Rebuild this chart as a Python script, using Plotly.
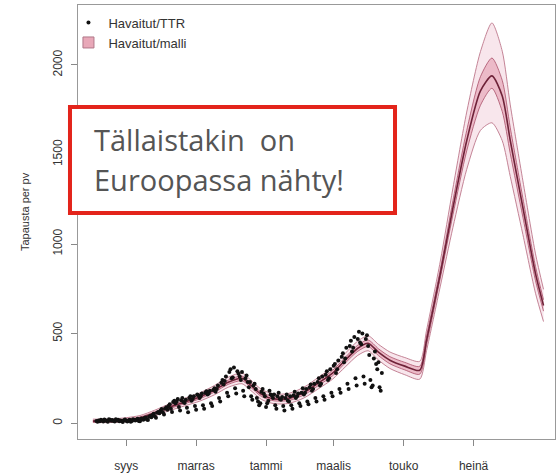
import plotly.graph_objects as go
import pandas as pd

# ---- model curve (knots) ----
model_dates = ["2020-08-03", "2020-08-18", "2020-09-01", "2020-09-13", "2020-09-26",
               "2020-10-09", "2020-10-22", "2020-11-04", "2020-11-17", "2020-11-29",
               "2020-12-11", "2020-12-18", "2020-12-28", "2021-01-08", "2021-01-21",
               "2021-02-03", "2021-02-16", "2021-02-28", "2021-03-11", "2021-03-22",
               "2021-03-31", "2021-04-09", "2021-04-19", "2021-05-02", "2021-05-15",
               "2021-05-21", "2021-06-02", "2021-06-13", "2021-06-25", "2021-07-07",
               "2021-07-17", "2021-07-26", "2021-08-02", "2021-08-13", "2021-08-24",
               "2021-08-31"]
model_mean = [11, 11, 17, 28, 56, 89, 117, 145, 184, 228, 250, 215, 160, 135, 138,
              170, 225, 279, 351, 418, 446, 396, 351, 318, 295, 462, 835, 1203, 1577,
              1855, 1939, 1827, 1577, 1203, 835, 657]
model_lo95 = [3, 3, 7, 15, 40, 70, 96, 122, 158, 200, 220, 186, 132, 108, 110,
              140, 193, 245, 313, 378, 404, 352, 305, 270, 245, 405, 765, 1093, 1417,
              1635, 1677, 1577, 1377, 1053, 725, 567]
model_hi95 = [22, 22, 30, 42, 72, 108, 138, 168, 210, 256, 280, 244, 188, 162, 166,
              200, 257, 313, 389, 458, 488, 440, 397, 366, 345, 519, 905, 1313, 1737,
              2075, 2235, 2077, 1777, 1353, 945, 747]
model_lo50 = [7, 7, 12, 22, 49, 81, 108, 135, 173, 216, 237, 203, 148, 124, 126,
              157, 211, 264, 335, 401, 428, 377, 331, 297, 273, 437, 810, 1163, 1520,
              1775, 1870, 1740, 1505, 1150, 795, 625]
model_hi50 = [15, 15, 22, 34, 63, 97, 126, 155, 195, 240, 263, 227, 172, 146, 150,
              183, 239, 294, 367, 435, 464, 415, 371, 339, 317, 487, 860, 1243, 1634,
              1935, 2039, 1914, 1649, 1256, 875, 689]

# ---- observed daily cases ----
obs_start = "2020-08-06"
obs_values = [
    12, 8, 15, 10, 18, 14, 9,
    20, 16, 11, 7, 22, 19, 13,
    17, 12, 9, 21, 15, 18, 10,
    14, 11, 6, 16, 20, 13, 9,
    15, 18, 8, 12, 21, 17, 14,
    19, 24, 12, 10, 26, 22, 18,
    28, 31, 20, 17, 35, 40, 33,
    45, 52, 38, 30, 58, 62, 55,
    70, 78, 60, 48, 82, 88, 75,
    95, 105, 80, 62, 118, 125, 110,
    120, 135, 90, 70, 128, 140, 118,
    112, 130, 85, 60, 140, 150, 125,
    135, 150, 95, 75, 160, 155, 140,
    150, 165, 100, 80, 170, 178, 160,
    165, 180, 110, 95, 185, 195, 175,
    190, 210, 140, 120, 225, 240, 215,
    235, 260, 170, 150, 285, 300, 250,
    255, 310, 195, 165, 290, 275, 260,
    240, 285, 180, 150, 250, 265, 230,
    200, 230, 150, 130, 210, 220, 190,
    140, 120, 100, 110, 175, 190, 165,
    150, 90, 110, 125, 180, 160, 155,
    140, 160, 100, 80, 150, 170, 135,
    130, 145, 95, 70, 140, 160, 125,
    120, 150, 100, 80, 155, 175, 140,
    150, 165, 110, 95, 170, 195, 160,
    170, 190, 120, 105, 200, 215, 180,
    190, 220, 140, 120, 230, 250, 210,
    220, 260, 150, 130, 270, 290, 240,
    250, 300, 170, 150, 320, 330, 280,
    300, 350, 190, 170, 370, 390, 340,
    360, 420, 220, 190, 430, 460, 400,
    420, 480, 250, 210, 470, 510, 450,
    440, 500, 260, 220, 470, 490, 430,
    380, 240, 200, 210, 360, 400, 330,
    300, 340, 200, 180, 280,
]
obs_dates = pd.date_range(obs_start, periods=len(obs_values), freq="D")

tick_vals = ["2020-09-01", "2020-11-01", "2021-01-01", "2021-03-01", "2021-05-01", "2021-07-01"]
tick_text = ["syys", "marras", "tammi", "maalis", "touko", "heinä"]
y_ticks = [0, 500, 1000, 1500, 2000]

outer_edge = "rgba(190,120,140,0.9)"
outer_fill = "rgba(240,200,212,0.45)"
inner_edge = "rgba(170,80,105,0.8)"
inner_fill = "rgba(225,150,172,0.55)"
mean_col = "#6e2238"

fig = go.Figure()
sp = dict(shape="spline", smoothing=0.7)
fig.add_trace(go.Scatter(x=model_dates, y=model_hi95, mode="lines",
                         line=dict(color=outer_edge, width=1, **sp), showlegend=False, hoverinfo="skip"))
fig.add_trace(go.Scatter(x=model_dates, y=model_lo95, mode="lines", fill="tonexty",
                         fillcolor=outer_fill, line=dict(color=outer_edge, width=1, **sp),
                         showlegend=False, hoverinfo="skip"))
fig.add_trace(go.Scatter(x=model_dates, y=model_hi50, mode="lines",
                         line=dict(color=inner_edge, width=1, **sp), showlegend=False, hoverinfo="skip"))
fig.add_trace(go.Scatter(x=model_dates, y=model_lo50, mode="lines", fill="tonexty",
                         fillcolor=inner_fill, line=dict(color=inner_edge, width=1, **sp),
                         showlegend=False, hoverinfo="skip"))
fig.add_trace(go.Scatter(x=model_dates, y=model_mean, mode="lines",
                         line=dict(color=mean_col, width=1.6, **sp), showlegend=False))
fig.add_trace(go.Scatter(x=obs_dates, y=obs_values, mode="markers", name="Havaitut/TTR",
                         marker=dict(color="#111111", size=4), legendrank=1))
fig.add_trace(go.Scatter(x=[None], y=[None], mode="markers", name="Havaitut/malli",
                         marker=dict(symbol="square", size=11, color="#e8a8b8",
                                     line=dict(color="#b07888", width=1)), legendrank=2))

axis_common = dict(showline=True, linecolor="#999999", linewidth=1, mirror=True,
                   ticks="outside", ticklen=6, tickcolor="#888888", showgrid=False,
                   zeroline=False, automargin=False,
                   tickfont=dict(family="Liberation Sans", size=12, color="#333333"))
fig.update_xaxes(range=["2020-07-21", "2021-09-10"], tickvals=tick_vals, ticktext=tick_text,
                 ticklabelstandoff=10, **axis_common)
fig.update_yaxes(range=[-89, 2335], tickvals=y_ticks, tickangle=-90,
                 ticklabelstandoff=4, **axis_common)

fig.update_layout(
    width=558, height=476,
    margin=dict(l=78, r=3, t=5, b=37, autoexpand=False),
    plot_bgcolor="white", paper_bgcolor="white",
    showlegend=True,
    legend=dict(x=-0.02, y=0.994, xanchor="left", yanchor="top", traceorder="normal",
                bgcolor="rgba(0,0,0,0)", font=dict(family="Liberation Sans", size=13, color="#333333"),
                itemwidth=30, tracegroupgap=0),
    font=dict(family="Liberation Sans"),
)

# y-axis title
fig.add_annotation(text="Tapausta per pv", xref="paper", yref="paper", x=-0.111, y=0.523,
                   textangle=-90, showarrow=False, xanchor="center", yanchor="middle",
                   font=dict(family="Liberation Sans", size=11, color="#333333"))

# red callout box
fig.add_shape(type="rect", xref="paper", yref="paper", x0=-0.0168, x1=0.6646, y0=0.5207, y1=0.765,
              line=dict(color="#e3241b", width=4), fillcolor="white", layer="above")
fig.add_annotation(text="Tällaistakin\u00a0\u00a0on", xref="paper", yref="paper", x=0.0294, y=0.691,
                   xanchor="left", yanchor="middle", showarrow=False,
                   font=dict(family="Open Sans", size=29, color="#555555"))
fig.add_annotation(text="Euroopassa nähty!", xref="paper", yref="paper", x=0.0294, y=0.597,
                   xanchor="left", yanchor="middle", showarrow=False,
                   font=dict(family="Open Sans", size=29, color="#555555"))

fig.write_html("out.html", config={"displayModeBar": False},
               post_script="document.body.style.margin='0';document.body.style.padding='0';")
